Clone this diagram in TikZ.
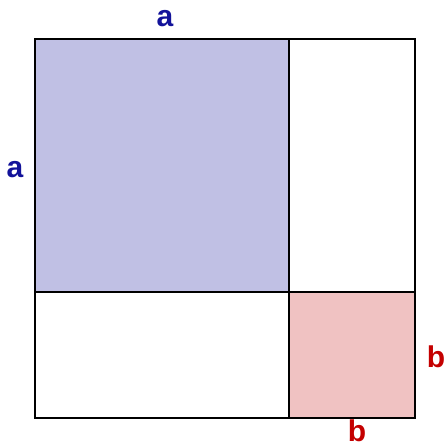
\documentclass[tikz,border=0pt]{standalone}
\usepackage{fontspec}
\setmainfont{Liberation Sans}
\usetikzlibrary{positioning}
\definecolor{sqblue}{HTML}{C0C0E4}
\definecolor{sqpink}{HTML}{F0C2C2}
\definecolor{lblblue}{HTML}{12129A}
\definecolor{lblred}{HTML}{C40000}

\begin{document}
\begin{tikzpicture}[x=1pt, y=-1pt,
  lbl/.style={font=\fontsize{30}{30}\selectfont\bfseries, inner sep=0pt},
]

% Frame
\useasboundingbox (0,0) rectangle (445,448);

% === Squares ===
\fill[sqblue] (35,39) rectangle (289,292);
\fill[sqpink] (289,292) rectangle (415,418);

% Grid lines
\draw[line width=1.6pt] (35,39) rectangle (415,418);
\draw[line width=1.6pt] (289,39) -- (289,418);
\draw[line width=1.6pt] (35,292) -- (415,292);

% === Side labels ===
\node[lbl, text=lblblue] (atop) at (165,19) {a};
\node[lbl, text=lblblue] (aleft) at (15,170) {a};
\node[lbl, text=lblred] (bright) at (436,357) {b};
\node[lbl, text=lblred] (bbot) at (357,431) {b};

\end{tikzpicture}
\end{document}
